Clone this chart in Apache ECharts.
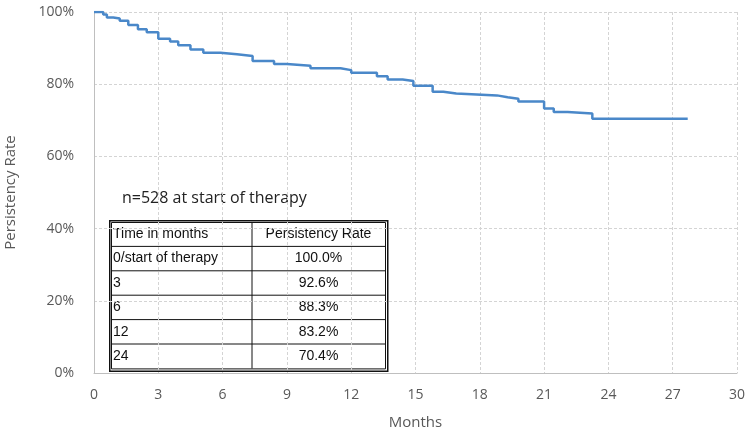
<!DOCTYPE html>
<html>
<head>
<meta charset="utf-8">
<script src="https://cdn.jsdelivr.net/npm/echarts@6/dist/echarts.min.js"></script>
<style>
	html, body { margin: 0; padding: 0; background: #fff; }
	#chart { width: 750px; height: 439px; }
</style>
</head>
<body>
<div id="chart"></div>
<script>
// persistency curve (step drops)
const months = [0, 0.43, 0.6, 0.9, 1.2, 1.6, 2.05, 2.46, 3.0, 3.55, 3.93, 4.5, 5.1, 5.9, 6.67, 7.4, 8.4, 9.0, 10.1, 11.5, 12.0, 13.2, 13.7, 14.4, 14.9, 15.8, 16.3, 16.9, 18.8, 19.3, 19.8, 21.0, 21.45, 22.1, 23.25, 27.7];
const rates = [100, 99.3, 98.5, 98.2, 97.6, 96.4, 95.2, 94.4, 92.6, 91.8, 90.8, 89.6, 88.7, 88.3, 87.8, 86.4, 85.6, 85.1, 84.4, 83.9, 83.2, 82.2, 81.3, 80.9, 79.6, 77.9, 77.4, 76.9, 76.4, 76.0, 75.2, 73.3, 72.3, 71.9, 70.4, 70.4];

const xTicks = [0, 3, 6, 9, 12, 15, 18, 21, 24, 27, 30];
const yTicks = [0, 20, 40, 60, 80, 100];

const tableTitle = "n=528 at start of therapy";
const tableHeader = ["Time in months", "Persistency Rate"];
const tableTimes = ["0/start of therapy", "3", "6", "12", "24"];
const tableRates = ["100.0%", "92.6%", "88.3%", "83.2%", "70.4%"];

const chart = echarts.init(document.getElementById("chart"));

// table box
const tx = 111, ty = 222, tw = 274, rowH = 24.4, col1 = 141;
const rows = [tableHeader].concat(tableTimes.map((t, i) => [t, tableRates[i]]));
const tableEls = [
	{ type: "rect", left: 107, top: 184, shape: { width: 282, height: 32 }, style: { fill: "#fff" } },
	{ type: "text", left: 122, top: 190, style: { text: tableTitle, font: "16px 'Open Sans', sans-serif", fill: "#222" } },
	{ type: "rect", left: tx - 2, top: ty - 2, shape: { width: tw + 4, height: rowH * 6 + 4 }, style: { fill: "#fff", stroke: "#111", lineWidth: 1.5 } },
	{ type: "rect", left: tx, top: ty, shape: { width: tw, height: rowH * 6 }, style: { fill: "#fff", stroke: "#111", lineWidth: 1 } },
	{ type: "line", shape: { x1: tx + col1, y1: ty, x2: tx + col1, y2: ty + rowH * 6 }, style: { stroke: "#111", lineWidth: 1 } }
];
rows.forEach((r, i) => {
	if (i > 0) {
		tableEls.push({ type: "line", shape: { x1: tx, y1: ty + rowH * i, x2: tx + tw, y2: ty + rowH * i }, style: { stroke: "#111", lineWidth: 1 } });
	}
	const cy = ty + rowH * i + rowH / 2;
	tableEls.push({ type: "text", x: tx + 2, y: cy, style: { text: r[0], font: "14px 'Liberation Sans', sans-serif", fill: "#111", verticalAlign: "middle" } });
	tableEls.push({ type: "text", x: tx + col1 + (tw - col1) / 2, y: cy, style: { text: r[1], font: "14px 'Liberation Sans', sans-serif", fill: "#111", align: "center", verticalAlign: "middle" } });
});

chart.setOption({
	animation: false,
	grid: { left: 94, right: 13, top: 12, bottom: 66, outerBoundsMode: "none" },
	xAxis: {
		type: "value",
		min: 0,
		max: 30,
		interval: 3,
		name: "Months",
		nameLocation: "middle",
		nameGap: 42,
		nameTextStyle: { fontSize: 15, color: "#595959", fontFamily: "Open Sans" },
		axisLine: { show: true, lineStyle: { color: "#bfbfbf" } },
		axisTick: { show: false },
		axisLabel: { color: "#595959", fontSize: 14, margin: 15, fontFamily: "Open Sans" },
		splitLine: { show: true, lineStyle: { color: "#d4d4d4", type: [3, 2] } }
	},
	yAxis: {
		type: "value",
		min: 0,
		max: 100,
		interval: 20,
		name: "Persistency Rate",
		nameLocation: "middle",
		nameGap: 76,
		nameTextStyle: { fontSize: 15, color: "#595959", fontFamily: "Open Sans" },
		axisLine: { show: true, lineStyle: { color: "#bfbfbf" } },
		axisTick: { show: false },
		axisLabel: { color: "#595959", fontSize: 14, margin: 20, fontFamily: "Open Sans", formatter: v => v + "%" },
		splitLine: { show: true, lineStyle: { color: "#d4d4d4", type: [3, 2] } }
	},
	series: [{
		type: "line",
		step: "end",
		showSymbol: false,
		data: months.map((m, i) => [m, rates[i]]),
		lineStyle: { color: "#4a88c9", width: 2.5 },
		z: 3
	}],
	graphic: tableEls
});
</script>
</body>
</html>
